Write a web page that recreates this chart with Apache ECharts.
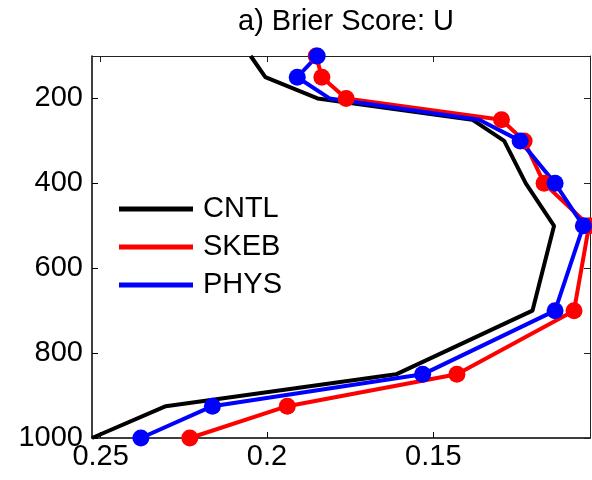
<!DOCTYPE html>
<html style="height: 100%; width:100%">
<head>
    <meta charset="utf-8">
    <script type="text/javascript" src="https://cdn.jsdelivr.net/npm/echarts@6/dist/echarts.min.js"></script>
</head>
<body style="height: 100%; width: 100%; margin: 0; background:#fff">
<div id="container" style="width:592px;height:480px"></div>
<script type="text/javascript">
    // pressure levels (hPa)
    var levels = [100, 150, 200, 250, 300, 400, 500, 700, 850, 925, 1000];
    // brier scores
    var cntl = [0.2049, 0.2005, 0.1848, 0.1383, 0.1287, 0.1222, 0.1137, 0.1202, 0.1612, 0.2304, 0.2526];
    var skeb = [0.1852, 0.1835, 0.1762, 0.1295, 0.1227, 0.1167, 0.1032, 0.1077, 0.1429, 0.1939, 0.2232];
    var phys = [0.1849, 0.1909, 0.1812, 0.1362, 0.1239, 0.1134, 0.1049, 0.1134, 0.1532, 0.2164, 0.2379];
    // which levels carry a dot
    var skebDot = [1, 1, 1, 1, 1, 1, 1, 1, 1, 1, 1];
    var physDot = [1, 1, 0, 0, 1, 1, 1, 1, 1, 1, 1];
    var xTicks = [0.15, 0.2, 0.25];
    var yTicks = [200, 400, 600, 800, 1000];

    var font = "'Liberation Sans', Arial, sans-serif";

    function pts(vals, dots) {
        return vals.map(function (v, i) {
            return {
                value: [v, levels[i]],
                symbolSize: dots && dots[i] ? 17 : 0
            };
        });
    }

    function mkSeries(name, color, vals, dots) {
        return {
            name: name,
            type: "line",
            data: pts(vals, dots),
            symbol: dots ? "circle" : "none",
            showAllSymbol: true,
            clip: false,
            lineStyle: { color: color, width: 4 },
            itemStyle: { color: color },
            emphasis: { disabled: true }
        };
    }

    var xRange = { min: 0.1029, max: 0.2526 };
    var yRange = { min: 100, max: 1000 };

    var myChart = echarts.init(document.getElementById("container"));
    var option = {
        animation: false,
        title: {
            text: "a) Brier Score: U",
            left: 341,
            top: 2,
            textAlign: "center",
            textStyle: { fontFamily: font, fontSize: 29, fontWeight: "normal", color: "#000" }
        },
        legend: {
            orient: "vertical",
            left: 119,
            top: 194,
            padding: 0,
            itemGap: 8,
            itemWidth: 74,
            itemHeight: 5,
            icon: "rect",
            textStyle: { fontFamily: font, fontSize: 29, color: "#000", lineHeight: 30, padding: [0, 0, 0, 5] },
            data: ["CNTL", "SKEB", "PHYS"]
        },
        grid: { left: 92, right: 2, top: 56, bottom: 42 },
        xAxis: [{
            type: "value",
            inverse: true,
            min: xRange.min,
            max: xRange.max,
            position: "bottom",
            splitLine: { show: false },
            axisLine: { onZero: false, lineStyle: { color: "#000", width: 1.5 } },
            axisTick: { inside: true, length: 6, customValues: xTicks, lineStyle: { color: "#000" } },
            axisLabel: {
                customValues: xTicks,
                margin: 4,
                fontFamily: font,
                fontSize: 29,
                color: "#000",
                formatter: function (v) { return String(v); }
            }
        }, {
            type: "value",
            inverse: true,
            min: xRange.min,
            max: xRange.max,
            position: "top",
            splitLine: { show: false },
            axisLine: { onZero: false, lineStyle: { color: "#222", width: 1 } },
            axisTick: { inside: true, length: 6, customValues: xTicks, lineStyle: { color: "#222" } },
            axisLabel: { show: false }
        }],
        yAxis: [{
            type: "value",
            inverse: true,
            min: yRange.min,
            max: yRange.max,
            position: "left",
            splitLine: { show: false },
            axisLine: { onZero: false, lineStyle: { color: "#000", width: 1.5 } },
            axisTick: { inside: true, length: 6, customValues: yTicks, lineStyle: { color: "#000" } },
            axisLabel: {
                customValues: yTicks,
                margin: 9,
                fontFamily: font,
                fontSize: 29,
                color: "#000",
                formatter: function (v) { return String(v); }
            }
        }, {
            type: "value",
            inverse: true,
            min: yRange.min,
            max: yRange.max,
            position: "right",
            splitLine: { show: false },
            axisLine: { onZero: false, lineStyle: { color: "#222", width: 1 } },
            axisTick: { inside: true, length: 6, customValues: yTicks, lineStyle: { color: "#222" } },
            axisLabel: { show: false }
        }],
        series: [
            mkSeries("CNTL", "#000000", cntl, null),
            mkSeries("SKEB", "#ff0000", skeb, skebDot),
            mkSeries("PHYS", "#0000ff", phys, physDot)
        ]
    };
    myChart.setOption(option);
</script>
</body>
</html>
